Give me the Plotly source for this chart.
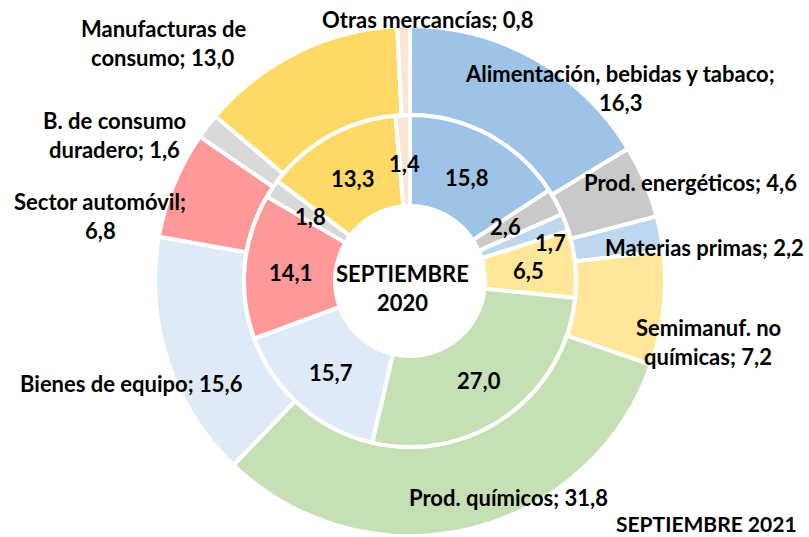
import math
import plotly.graph_objects as go

# ---- data ----
categories = ["Alimentación, bebidas y tabaco", "Prod. energéticos", "Materias primas",
              "Semimanuf. no químicas", "Prod. químicos", "Bienes de equipo",
              "Sector automóvil", "B. de consumo duradero", "Manufacturas de consumo",
              "Otras mercancías"]
sep_2021 = [16.3, 4.6, 2.2, 7.2, 31.8, 15.6, 6.8, 1.6, 13.0, 0.8]
sep_2020 = [15.8, 2.6, 1.7, 6.5, 27.0, 15.7, 14.1, 1.8, 13.3, 1.4]
# outer label text (line breaks as in the original)
outer_label_text = ["Alimentación, bebidas y tabaco;<br>{v}", "Prod. energéticos; {v}",
                    "Materias primas; {v}", "Semimanuf. no<br>químicas; {v}",
                    "Prod. químicos; {v}", "Bienes de equipo; {v}",
                    "Sector automóvil;<br>{v}", "B. de consumo<br>duradero; {v}",
                    "Manufacturas de<br>consumo; {v}", "Otras mercancías; {v}"]
center_title = "SEPTIEMBRE<br>2020"
outer_title = "SEPTIEMBRE 2021"

# ---- styles / layout ----
colors = ["#9DC3E6", "#C9C9C9", "#BDD7EE", "#FFE699", "#C5E0B4",
          "#DEEBF7", "#FF9999", "#D9D9D9", "#FFD966", "#FBE5D6"]
W, H = 809, 537
OX, OY = 0, 0              # body margin removed below, so plot starts at window origin
CX, CY = 410, 281          # pixel centre of the doughnuts (in the window)
R_OUT, R_MID, R_IN = 255, 166, 75
LINE_H = 29                # line spacing of multi-line labels
# window-pixel centres of the outer labels (manually placed in the original)
outer_label_pos = [(620, 88), (690, 182), (704, 248), (708, 342), (508, 497),
                   (131, 383), (100, 216), (114, 135), (163, 43), (427, 20)]
# inner labels that were moved by hand in the original (slice index -> position)
inner_label_moved = {1: (505, 226), 2: (550, 242)}
center_title_pos = (402, 288)
outer_title_pos = (706, 523)
FONT = "Lato"
FS = 22


def fmt(v):
    return f"{v:.1f}".replace(".", ",")


def px2paper(px, py):
    return (px - OX) / W, 1 - (py - OY) / H


def dom(r):
    x0, y1 = px2paper(CX - r, CY - r)
    x1, y0 = px2paper(CX + r, CY + r)
    return dict(x=[x0, x1], y=[y0, y1])


fig = go.Figure()
fig.add_trace(go.Pie(values=sep_2021, labels=categories, domain=dom(R_OUT),
                     hole=R_MID / R_OUT, sort=False, direction="clockwise",
                     rotation=0, textinfo="none", hoverinfo="label+value",
                     marker=dict(colors=colors, line=dict(color="white", width=4)),
                     showlegend=False))
fig.add_trace(go.Pie(values=sep_2020, labels=categories, domain=dom(R_MID),
                     hole=R_IN / R_MID, sort=False, direction="clockwise",
                     rotation=0, textinfo="none", hoverinfo="label+value",
                     marker=dict(colors=colors, line=dict(color="white", width=4)),
                     showlegend=False))

annotations = []


def add_label(px, py, text, size=FS):
    lines = text.split("<br>")
    n = len(lines)
    for i, ln in enumerate(lines):
        x, y = px2paper(px, py + (i - (n - 1) / 2) * LINE_H)
        annotations.append(dict(x=x, y=y, xref="paper", yref="paper", xanchor="center",
                                yanchor="middle", text="<b>" + ln + "</b>",
                                showarrow=False,
                                font=dict(family=FONT, size=size, color="black")))


# inner ring value labels at mid-angle / mid-radius of each slice
total = sum(sep_2020)
cum = 0.0
r_lab = (R_IN + R_MID) / 2 - 1
for i, v in enumerate(sep_2020):
    mid = (cum + v / 2) / total * 2 * math.pi
    cum += v
    if i in inner_label_moved:
        px, py = inner_label_moved[i]
    else:
        px, py = CX + r_lab * math.sin(mid), CY + 2 - r_lab * math.cos(mid)
    add_label(px, py, fmt(v))
# outer labels
for t, v, (px, py) in zip(outer_label_text, sep_2021, outer_label_pos):
    add_label(px, py, t.format(v=fmt(v)))
add_label(*center_title_pos, center_title)
add_label(*outer_title_pos, outer_title, size=21)

fig.update_layout(width=W, height=H, margin=dict(l=0, r=0, t=0, b=0),
                  paper_bgcolor="white", plot_bgcolor="white",
                  annotations=annotations)
fig.write_html("out.html", config={"displayModeBar": False},
               post_script="document.body.style.margin='0';document.body.style.padding='0';")
